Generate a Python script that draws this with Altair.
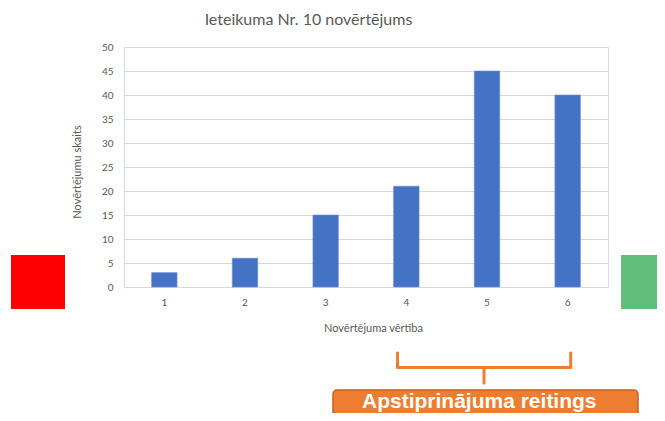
import altair as alt
import pandas as pd

# ---- data ----
categories = ["1", "2", "3", "4", "5", "6"]
counts = [3, 6, 15, 21, 45, 40]

title_text = "Ieteikuma Nr. 10 novērtējums"
x_title = "Novērtējuma vērtība"
y_title = "Novērtējumu skaits"
banner_text = "Apstiprinājuma reitings"

df = pd.DataFrame({"cat": categories, "count": counts})

FONT = "Lato"
GRAY = "#595959"
ORANGE = "#ED7D31"

bars = alt.Chart(df).mark_bar(color="#4472C4", stroke="#6d90d0", strokeWidth=0.6).encode(
    x=alt.X("cat:N", sort=categories,
            scale=alt.Scale(paddingInner=0.684, paddingOuter=0.342),
            axis=alt.Axis(title=x_title, labelAngle=0, ticks=False, domain=False,
                          labelPadding=10, labelFontSize=10, labelColor=GRAY,
                          labelFont=FONT, titleFont=FONT, titleFontSize=11,
                          titleFontWeight="normal", titleColor=GRAY,
                          titleX=249, titleY=41, titleBaseline="middle",
                          titleAlign="center")),
    y=alt.Y("count:Q", scale=alt.Scale(domain=[0, 50], nice=False),
            axis=alt.Axis(title=y_title, values=list(range(0, 51, 5)), ticks=False,
                          domain=False, labelPadding=11, labelFontSize=10,
                          labelColor=GRAY, labelFont=FONT, gridColor="#d9d9d9",
                          gridWidth=1, titleFont=FONT, titleFontSize=11,
                          titleFontWeight="normal", titleColor=GRAY,
                          titleX=-46.5, titleY=124.5, titleBaseline="middle",
                          titleAlign="center", titleAngle=270)),
)

one = alt.Data(values=[{}])

title = alt.Chart(one).mark_text(font=FONT, fontSize=16, color=GRAY,
                                 baseline="middle", align="center").encode(
    x=alt.value(184.5), y=alt.value(-27), text=alt.value(title_text))

red_sq = alt.Chart(one).mark_rect(color="#FF0000").encode(
    x=alt.value(-113), x2=alt.value(-59), y=alt.value(208), y2=alt.value(262))
green_sq = alt.Chart(one).mark_rect(color="#63BE7B").encode(
    x=alt.value(497), x2=alt.value(545), y=alt.value(208), y2=alt.value(262))

bk = dict(color=ORANGE, strokeWidth=3, strokeCap="round")
br_left = alt.Chart(one).mark_rule(**bk).encode(
    x=alt.value(273.5), y=alt.value(306), y2=alt.value(320.5))
br_right = alt.Chart(one).mark_rule(**bk).encode(
    x=alt.value(446.7), y=alt.value(306), y2=alt.value(320.5))
br_h = alt.Chart(one).mark_rule(**bk).encode(
    x=alt.value(275), x2=alt.value(445), y=alt.value(320.5))
br_stem = alt.Chart(one).mark_rule(**bk).encode(
    x=alt.value(360), y=alt.value(320.5), y2=alt.value(336))

box = alt.Chart(one).mark_rect(color=ORANGE, stroke="#C4621F", strokeWidth=1.5,
                               cornerRadius=4).encode(
    x=alt.value(209), x2=alt.value(514), y=alt.value(343), y2=alt.value(395))
banner = alt.Chart(one).mark_text(font="Liberation Sans", fontSize=21, fontWeight="bold",
                                  color="white", align="left", baseline="alphabetic",
                                  limit=279, ellipsis="").encode(
    x=alt.value(238), y=alt.value(360.5), text=alt.value(banner_text))

chart = alt.layer(
    bars, title, red_sq, green_sq, br_left, br_right, br_h, br_stem, box, banner
).properties(
    width=484, height=240,
    autosize=alt.AutoSizeParams(type="none"),
    padding={"left": 116, "top": 39, "right": 49, "bottom": 126},
).configure_view(stroke=None).configure(background="white")

chart.save("out.html", embed_options={"renderer": "svg", "actions": False})
